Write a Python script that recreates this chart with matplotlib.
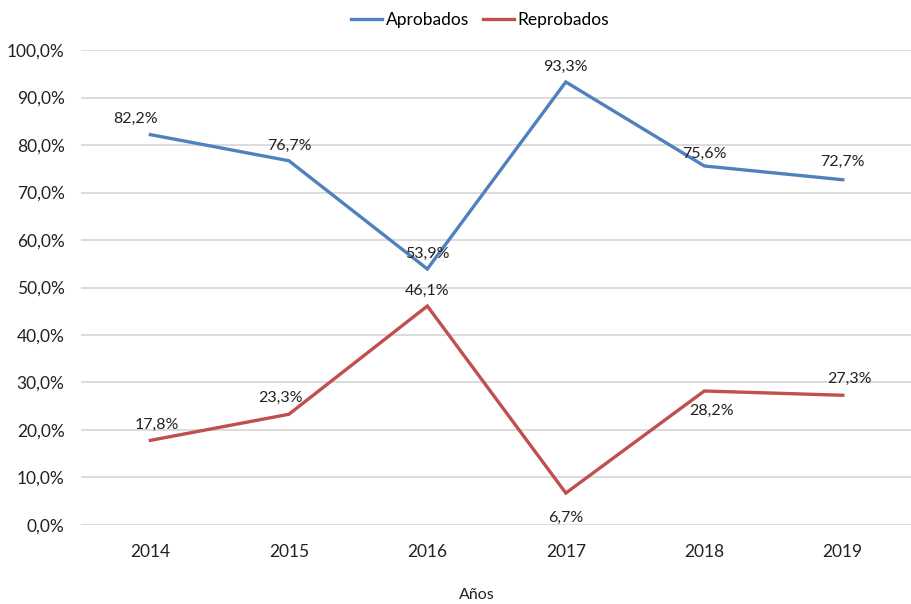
import numpy as np
import matplotlib.pyplot as plt
from matplotlib.ticker import FuncFormatter

years = ['2014', '2015', '2016', '2017', '2018', '2019']
aprobados = [82.2, 76.7, 53.9, 93.3, 75.6, 72.7]
reprobados = [17.8, 23.3, 46.1, 6.7, 28.2, 27.3]

# label offsets in points (dx, dy)
apr_off = [(-11, 11), (0, 11), (0, 11), (0, 11), (0, 9), (0, 13)]
rep_off = [(5, 11), (-6, 12), (0, 11), (0, -18), (5, -14), (5, 12)]

plt.rcParams['font.family'] = ['Lato', 'DejaVu Sans']

fig = plt.figure(figsize=(9.12, 6.04), dpi=100)
ax = fig.add_axes([0.089, 0.131, 0.911, 0.786])

x = np.arange(len(years))
blue = '#4F81BD'
red = '#C0504D'
ax.plot(x, aprobados, color=blue, lw=2.4, label='Aprobados', solid_joinstyle='miter')
ax.plot(x, reprobados, color=red, lw=2.4, label='Reprobados', solid_joinstyle='miter')


def pct(v):
    return f'{v:.1f}%'.replace('.', ',')


for i in range(len(years)):
    ax.annotate(pct(aprobados[i]), (x[i], aprobados[i]), xytext=apr_off[i],
                textcoords='offset points', ha='center', va='center',
                fontsize=11.5, color='#222222')
    ax.annotate(pct(reprobados[i]), (x[i], reprobados[i]), xytext=rep_off[i],
                textcoords='offset points', ha='center', va='center',
                fontsize=11.5, color='#222222')

ax.set_xlim(-0.5, 5.5)
ax.set_ylim(0, 100)
ax.set_yticks(np.arange(0, 101, 10))
ax.yaxis.set_major_formatter(FuncFormatter(lambda v, p: pct(v)))
ax.set_xticks(x)
ax.set_xticklabels(years)
ax.tick_params(axis='both', length=0, labelsize=12.5, colors='#222222')
ax.tick_params(axis='x', pad=14)
ax.tick_params(axis='y', pad=12)
ax.grid(axis='y', color='#D9D9D9', lw=1.3)
ax.set_axisbelow(True)
for s in ax.spines.values():
    s.set_visible(False)

fig.text(477 / 912, 1 - 595 / 604, 'Años', ha='center', va='center',
         fontsize=11.5, color='#222222')
fig.legend(loc='center', bbox_to_anchor=(480 / 912, 1 - 20 / 604), ncol=2,
           frameon=False, fontsize=12.5, handlelength=1.8, columnspacing=0.8,
           handletextpad=0.2)

fig.savefig('out.png', dpi=100, facecolor='white')
